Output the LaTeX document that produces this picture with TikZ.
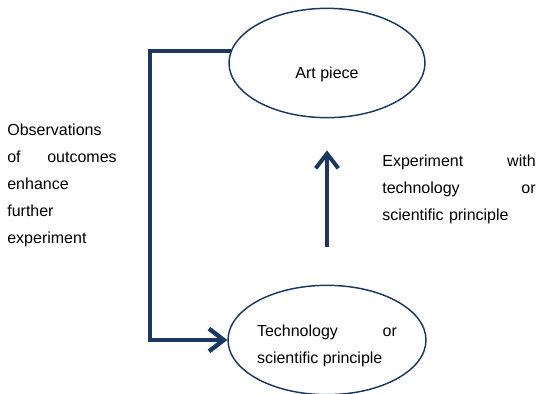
\documentclass[tikz,border=0pt]{standalone}
\usepackage{fontspec}
\setmainfont{Liberation Sans}
\usetikzlibrary{shapes.geometric,arrows.meta}
\definecolor{navy}{RGB}{28,56,96}
\tikzset{
	stage/.style={ellipse,draw=navy,line width=1.1pt,minimum width=147pt,minimum height=82pt,inner sep=0pt},
	flow/.style={draw=navy,line width=3.3pt,-{Straight Barb[length=11pt,width=17pt]}},
	note/.style={align=left,font=\fontsize{12}{20.25}\selectfont}
}
\begin{document}
\begin{tikzpicture}[x=0.75pt,y=-0.75pt]
		\useasboundingbox (0,0) rectangle (539,393);
		
		\node[stage,note] (art) at (327,63){\raisebox{-11.5pt}[0pt][0pt]{Art piece}};
		\node[stage,note] (tech) at (327,340){\raisebox{-7.5pt}[0pt][0pt]{\parbox{105pt}{Technology\hfill or\\scientific principle}}};
		
		\node[note,text width=82pt] (obs) at (62,185){Observations\\of\hfill outcomes\\enhance\\further\\experiment};
		\node[note,text width=115pt] (expt) at (459,189){Experiment\hfill with\\technology\hfill or\\scientific principle};
		
		\coordinate (bend) at (150,340);
		
		\draw[flow] (art.173) -| (bend) -- (tech.west);
		\draw[flow,line width=3pt,shorten <=28pt,shorten >=24pt] (tech.north) -- (art.south);
		\end{tikzpicture}
\end{document}
